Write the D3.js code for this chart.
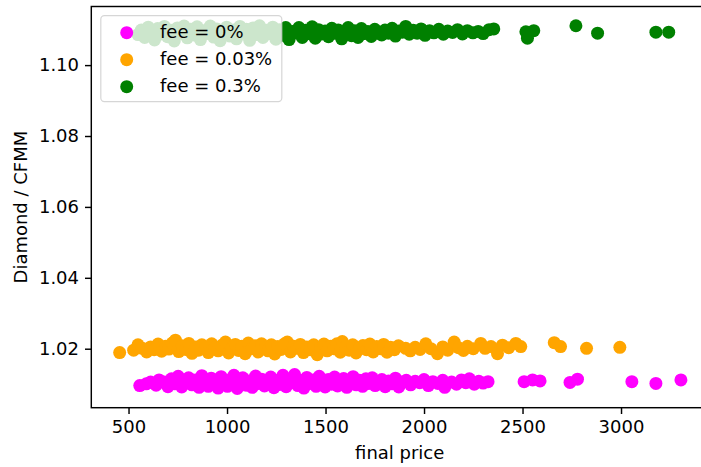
<!DOCTYPE html>
<html>
<head>
<meta charset="utf-8">
<script src="https://cdn.jsdelivr.net/npm/d3@7"></script>
<style>
  html, body { margin: 0; padding: 0; background: #fff; overflow: hidden; }
  svg { display: block; font-family: "DejaVu Sans", sans-serif; }
</style>
</head>
<body>
<div id="chart"></div>
<script>
// Ratio of Diamond to CFMM value against the final price, one series per fee level.
const seriesNames = ["fee = 0%", "fee = 0.03%", "fee = 0.3%"];
const seriesColors = ["#ff00ff", "#ffa500", "#008000"];

const fee0 = [
  [557,1.0096],[590,1.0101],[612,1.0106],[640,1.0097],[655,1.0112],[683,1.0106],[700,1.0093],[718,1.0115],
  [735,1.0101],[752,1.0122],[770,1.0092],[788,1.0108],[805,1.0118],[822,1.0098],[840,1.0112],[858,1.0091],
  [872,1.0124],[890,1.0104],[905,1.0094],[920,1.0117],[938,1.0101],[955,1.0089],[970,1.0121],[988,1.0106],
  [1002,1.0094],[1018,1.0113],[1035,1.0125],[1052,1.0088],[1066,1.0103],[1080,1.0118],[1097,1.0097],[1112,1.0109],
  [1128,1.0091],[1145,1.0123],[1160,1.0102],[1176,1.0114],[1190,1.0095],[1207,1.0106],[1222,1.0120],[1238,1.0090],
  [1253,1.0110],[1268,1.0099],[1284,1.0125],[1300,1.0093],[1315,1.0114],[1330,1.0104],[1343,1.0127],[1360,1.0096],
  [1376,1.0110],[1390,1.0089],[1405,1.0119],[1421,1.0102],[1437,1.0112],[1452,1.0094],[1468,1.0122],[1483,1.0105],
  [1498,1.0092],[1514,1.0113],[1530,1.0100],[1546,1.0120],[1561,1.0095],[1577,1.0108],[1592,1.0116],[1608,1.0091],
  [1625,1.0104],[1640,1.0121],[1656,1.0098],[1672,1.0111],[1688,1.0094],[1705,1.0115],[1720,1.0102],[1737,1.0118],
  [1752,1.0096],[1770,1.0107],[1786,1.0113],[1803,1.0093],[1820,1.0109],[1838,1.0101],[1855,1.0117],[1872,1.0092],
  [1890,1.0106],[1910,1.0111],[1932,1.0098],[1955,1.0108],[1978,1.0104],[2000,1.0113],[2022,1.0096],[2045,1.0107],
  [2070,1.0102],[2095,1.0111],[2105,1.0091],[2140,1.0106],[2165,1.0100],[2190,1.0112],[2212,1.0104],[2230,1.0115],
  [2255,1.0100],[2278,1.0108],[2300,1.0103],[2325,1.0107],
  [2508,1.0107],[2551,1.0112],[2589,1.0109],[2741,1.0105],[2779,1.0114],[3055,1.0107],[3177,1.0102],[3304,1.0112]
];

const fee003 = [
  [455,1.0189],[526,1.0196],[548,1.0211],[570,1.0201],[592,1.0191],[612,1.0205],[630,1.0197],[650,1.0213],
  [668,1.0193],[688,1.0207],[705,1.0199],[722,1.0216],[738,1.0224],[755,1.0192],[772,1.0208],[790,1.0198],
  [806,1.0215],[822,1.0187],[840,1.0205],[856,1.0196],[872,1.0211],[890,1.0201],[905,1.0189],[922,1.0214],
  [938,1.0204],[955,1.0194],[972,1.0209],[992,1.0219],[1008,1.0188],[1025,1.0203],[1042,1.0212],[1058,1.0195],
  [1075,1.0207],[1092,1.0186],[1108,1.0216],[1125,1.0200],[1142,1.0208],[1158,1.0191],[1175,1.0214],[1192,1.0202],
  [1208,1.0194],[1225,1.0211],[1242,1.0185],[1258,1.0206],[1275,1.0198],[1292,1.0214],[1306,1.0219],[1322,1.0191],
  [1338,1.0207],[1355,1.0201],[1372,1.0212],[1388,1.0189],[1405,1.0205],[1422,1.0197],[1440,1.0211],[1458,1.0183],
  [1475,1.0203],[1492,1.0213],[1508,1.0194],[1525,1.0207],[1542,1.0200],[1558,1.0214],[1575,1.0190],[1585,1.0220],
  [1602,1.0205],[1620,1.0196],[1638,1.0211],[1655,1.0188],[1672,1.0203],[1690,1.0209],[1708,1.0197],[1725,1.0213],
  [1742,1.0191],[1760,1.0206],[1778,1.0200],[1795,1.0212],[1812,1.0190],[1830,1.0204],[1850,1.0197],[1870,1.0208],
  [1907,1.0201],[1930,1.0194],[1955,1.0204],[1980,1.0198],[2009,1.0214],[2035,1.0200],[2068,1.0186],[2095,1.0205],
  [2120,1.0196],[2153,1.0219],[2175,1.0203],[2200,1.0195],[2220,1.0207],[2250,1.0200],[2288,1.0215],[2310,1.0201],
  [2340,1.0206],[2373,1.0186],[2398,1.0210],[2430,1.0203],[2466,1.0215],[2491,1.0206],
  [2661,1.0217],[2693,1.0206],[2825,1.0201],[2994,1.0204]
];

const fee03 = [
  [548,1.1086],[565,1.1099],[582,1.1078],[600,1.1107],[616,1.1092],[632,1.1071],[648,1.1103],[665,1.1088],
  [682,1.1109],[698,1.1080],[715,1.1098],[732,1.1068],[748,1.1105],[765,1.1090],[782,1.1110],[798,1.1077],
  [815,1.1101],[832,1.1085],[848,1.1108],[865,1.1072],[882,1.1097],[898,1.1089],[915,1.1110],[932,1.1079],
  [948,1.1102],[965,1.1069],[982,1.1094],[998,1.1107],[1015,1.1082],[1032,1.1099],[1048,1.1074],[1065,1.1109],
  [1082,1.1090],[1098,1.1101],[1115,1.1070],[1132,1.1105],[1148,1.1086],[1165,1.1111],[1182,1.1078],[1198,1.1098],
  [1215,1.1089],[1232,1.1107],[1248,1.1073],[1265,1.1100],[1282,1.1084],[1298,1.1106],[1315,1.1072],[1332,1.1095],
  [1348,1.1091],[1365,1.1106],[1382,1.1078],[1398,1.1098],[1415,1.1089],[1432,1.1108],[1448,1.1076],[1465,1.1100],
  [1482,1.1088],[1498,1.1096],[1515,1.1080],[1532,1.1104],[1548,1.1090],[1565,1.1099],[1582,1.1074],[1598,1.1094],
  [1615,1.1106],[1632,1.1083],[1648,1.1097],[1665,1.1078],[1682,1.1103],[1698,1.1089],[1715,1.1095],[1732,1.1081],
  [1750,1.1101],[1768,1.1092],[1785,1.1085],[1802,1.1099],[1820,1.1090],[1838,1.1104],[1855,1.1082],[1872,1.1096],
  [1890,1.1093],[1907,1.1109],[1925,1.1087],[1945,1.1098],[1965,1.1090],[1985,1.1102],[2005,1.1084],[2028,1.1097],
  [2050,1.1091],[2075,1.1101],[2098,1.1087],[2120,1.1096],[2145,1.1092],[2170,1.1100],[2195,1.1088],[2220,1.1097],
  [2248,1.1091],[2275,1.1095],[2300,1.1089],[2330,1.1100],[2354,1.1102],
  [2517,1.1094],[2525,1.1076],[2557,1.1097],[2771,1.1111],[2881,1.1090],[3177,1.1093],[3242,1.1093]
];

const xTicks = [500, 1000, 1500, 2000, 2500, 3000];
const yTicks = [1.02, 1.04, 1.06, 1.08, 1.10];
const xLabel = "final price";
const yLabel = "Diamond / CFMM";

const series = [fee0, fee003, fee03];

const W = 701, H = 467;
const plot = { left: 91.3, right: 708.1, top: 6.5, bottom: 407.7 };
const fontSize = 18;
const pointR = 6.5;

const x = d3.scaleLinear().domain([311, 3442]).range([plot.left, plot.right]);
const y = d3.scaleLinear().domain([1.00336, 1.11653]).range([plot.bottom, plot.top]);

const svg = d3.select("#chart").append("svg")
  .attr("width", W).attr("height", H)
  .attr("viewBox", `0 0 ${W} ${H}`);

svg.append("rect").attr("width", W).attr("height", H).attr("fill", "#fff");

svg.append("defs").append("clipPath").attr("id", "plot-clip")
  .append("rect")
  .attr("x", plot.left).attr("y", plot.top)
  .attr("width", plot.right - plot.left).attr("height", plot.bottom - plot.top);

// Scatter points, drawn in series order so later fees sit on top.
const pts = svg.append("g").attr("clip-path", "url(#plot-clip)");
series.forEach((data, i) => {
  pts.append("g")
    .attr("fill", seriesColors[i])
    .selectAll("circle")
    .data(data)
    .join("circle")
    .attr("cx", d => x(d[0]))
    .attr("cy", d => y(d[1]))
    .attr("r", pointR);
});

// Axes
const xAxis = svg.append("g")
  .attr("transform", `translate(0,${plot.bottom})`)
  .call(d3.axisBottom(x).tickValues(xTicks).tickFormat(d3.format("d")).tickSize(6.3).tickPadding(6));
const yAxis = svg.append("g")
  .attr("transform", `translate(${plot.left},0)`)
  .call(d3.axisLeft(y).tickValues(yTicks).tickFormat(d3.format(".2f")).tickSize(6.3).tickPadding(6));

[xAxis, yAxis].forEach(ax => {
  ax.select(".domain").remove();
  ax.selectAll(".tick line").attr("stroke", "#000").attr("stroke-width", 1.45);
  ax.selectAll(".tick text")
    .attr("fill", "#000")
    .style("font-family", "'DejaVu Sans', sans-serif")
    .style("font-size", fontSize + "px");
});

// Frame around the plot area
svg.append("rect")
  .attr("x", plot.left).attr("y", plot.top)
  .attr("width", plot.right - plot.left).attr("height", plot.bottom - plot.top)
  .attr("fill", "none").attr("stroke", "#000").attr("stroke-width", 1.45);

// Axis titles
svg.append("text")
  .attr("x", (plot.left + plot.right) / 2)
  .attr("y", 459)
  .attr("text-anchor", "middle")
  .style("font-size", fontSize + "px")
  .text(xLabel);

svg.append("text")
  .attr("transform", `translate(27,${(plot.top + plot.bottom) / 2}) rotate(-90)`)
  .attr("text-anchor", "middle")
  .style("font-size", fontSize + "px")
  .text(yLabel);

// Legend
const legend = svg.append("g");
legend.append("rect")
  .attr("x", 100.8).attr("y", 15.7)
  .attr("width", 181).attr("height", 86)
  .attr("rx", 3.6).attr("ry", 3.6)
  .attr("fill", "#fff").attr("fill-opacity", 0.8)
  .attr("stroke", "#cccccc").attr("stroke-opacity", 0.8).attr("stroke-width", 1.2);

seriesNames.forEach((name, i) => {
  const cy = 32.7 + i * 27;
  legend.append("circle")
    .attr("cx", 126.7).attr("cy", cy).attr("r", pointR)
    .attr("fill", seriesColors[i]);
  legend.append("text")
    .attr("x", 160).attr("y", cy + 5.6)
    .style("font-size", fontSize + "px")
    .text(name);
});
</script>
</body>
</html>
